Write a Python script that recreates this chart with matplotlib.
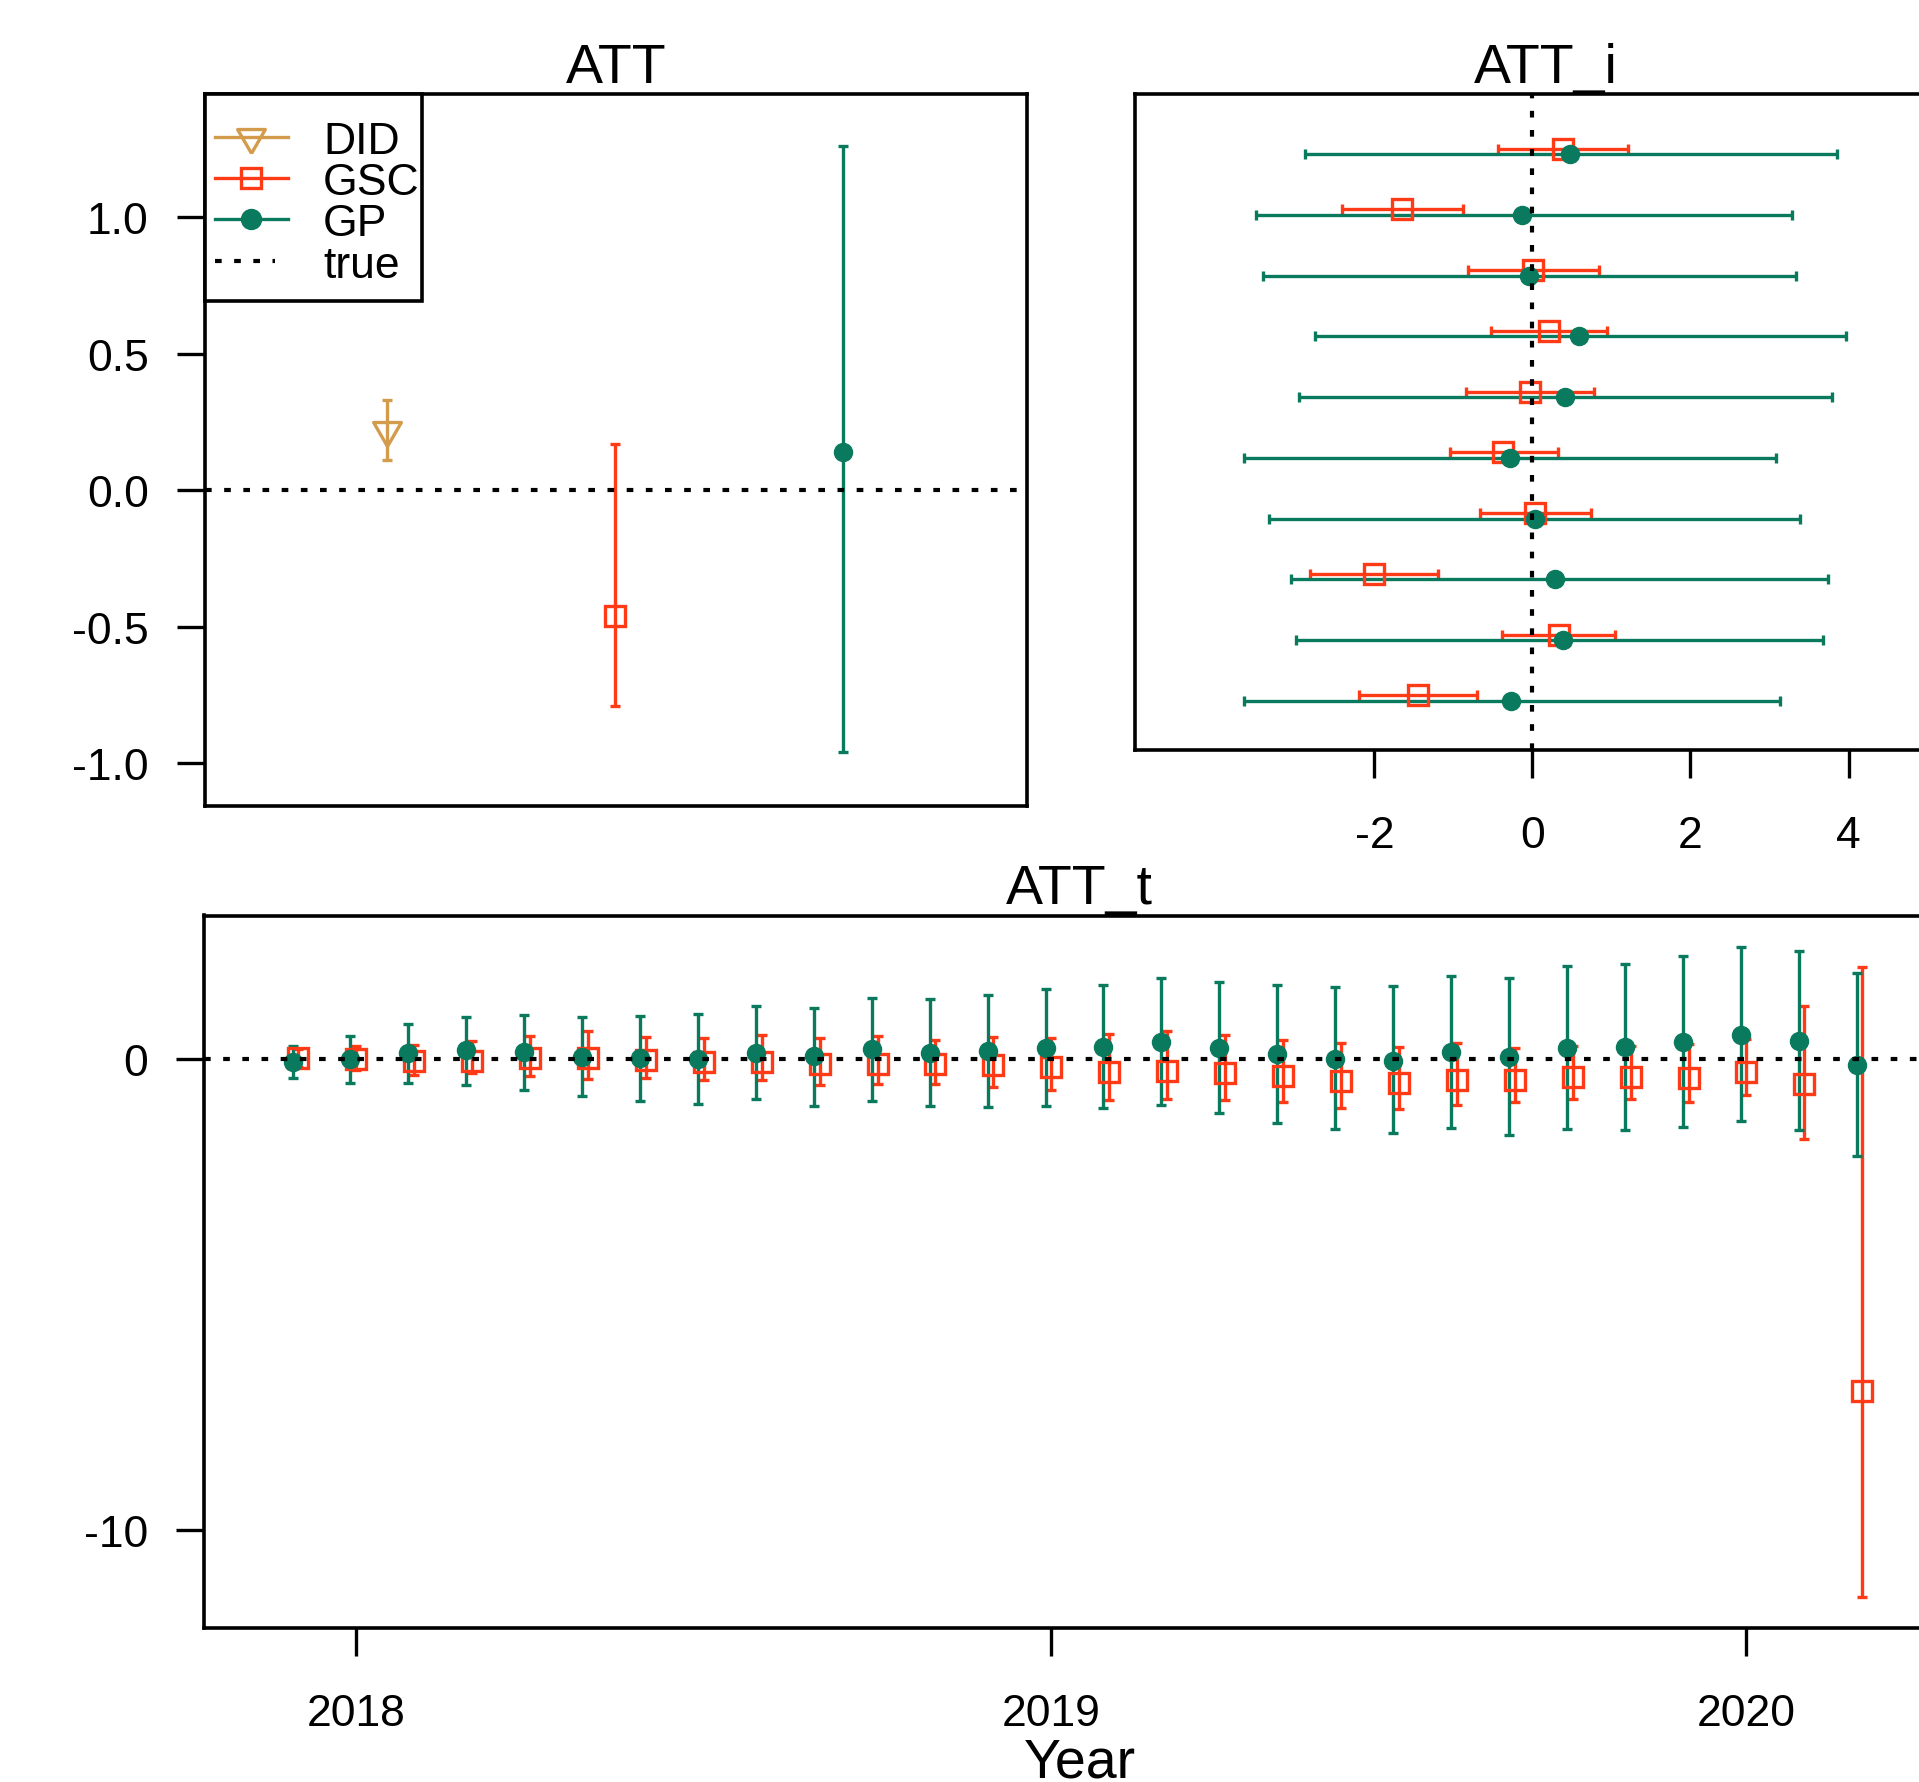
import numpy as np
import pandas as pd
import matplotlib.pyplot as plt
from matplotlib.lines import Line2D
from matplotlib.patches import Rectangle

plt.rcParams['font.family'] = ['Liberation Sans', 'DejaVu Sans']

col_did = '#D39B4C'
col_gsc = '#FF3A17'
col_gp = '#0A7A5E'

# --- ATT (overall effect) ---
att_names = ['DID', 'GSC', 'GP']
att_pos = [1, 2, 3]
att_mean = [0.22, -0.46, 0.14]
att_lo = [0.11, -0.79, -0.96]
att_hi = [0.33, 0.17, 1.26]
att_yticks = [-1.0, -0.5, 0.0, 0.5, 1.0]
att_ylabels = ['-1.0', '-0.5', '0.0', '0.5', '1.0']

# --- ATT_i (per unit) ---
unit_row = np.arange(1, 11)
gsc_i = [0.39, -1.65, 0.01, 0.21, -0.03, -0.37, 0.03, -2.01, 0.34, -1.45]
gsc_i_lo = [-0.43, -2.41, -0.81, -0.52, -0.84, -1.04, -0.66, -2.82, -0.38, -2.19]
gsc_i_hi = [1.21, -0.88, 0.84, 0.94, 0.78, 0.32, 0.74, -1.20, 1.05, -0.70]
gp_i = [0.48, -0.13, -0.05, 0.59, 0.41, -0.29, 0.03, 0.28, 0.39, -0.27]
gp_i_lo = [-2.88, -3.50, -3.41, -2.75, -2.96, -3.65, -3.34, -3.06, -2.99, -3.65]
gp_i_hi = [3.86, 3.28, 3.34, 3.97, 3.79, 3.08, 3.39, 3.74, 3.68, 3.13]
atti_xticks = [-2, 0, 2, 4]
atti_xlabels = ['-2', '0', '2', '4']

# --- ATT_t (per month) ---
months = pd.date_range('2017-12-01', periods=28, freq='MS')
gp_t = [-0.07, 0.00, 0.12, 0.18, 0.14, 0.04, 0.01, 0.00, 0.13, 0.05,
        0.21, 0.13, 0.16, 0.23, 0.25, 0.35, 0.23, 0.10, -0.01, -0.04,
        0.14, 0.04, 0.23, 0.24, 0.35, 0.51, 0.37, -0.14]
gp_t_lo = [-0.41, -0.51, -0.52, -0.55, -0.66, -0.80, -0.89, -0.95, -0.86, -1.00,
           -0.89, -1.01, -1.02, -1.00, -1.05, -0.99, -1.16, -1.36, -1.50, -1.57,
           -1.46, -1.61, -1.49, -1.51, -1.44, -1.33, -1.51, -2.07]
gp_t_hi = [0.27, 0.48, 0.74, 0.88, 0.92, 0.88, 0.91, 0.94, 1.13, 1.08,
           1.29, 1.27, 1.36, 1.49, 1.56, 1.71, 1.64, 1.56, 1.52, 1.54,
           1.76, 1.72, 1.96, 2.02, 2.18, 2.37, 2.28, 1.82]
gsc_t = [0.01, 0.00, -0.04, -0.04, 0.01, 0.01, -0.03, -0.06, -0.07, -0.11,
         -0.11, -0.12, -0.13, -0.17, -0.27, -0.25, -0.31, -0.37, -0.48, -0.52,
         -0.45, -0.45, -0.38, -0.38, -0.40, -0.29, -0.54, -7.05]
gsc_t_lo = [-0.18, -0.24, -0.35, -0.30, -0.37, -0.42, -0.40, -0.45, -0.46, -0.55,
            -0.54, -0.53, -0.60, -0.67, -0.87, -0.86, -0.88, -0.92, -1.04, -1.06,
            -0.99, -0.92, -0.85, -0.86, -0.92, -0.76, -1.70, -11.42]
gsc_t_hi = [0.20, 0.27, 0.30, 0.38, 0.48, 0.59, 0.47, 0.44, 0.51, 0.45,
            0.48, 0.40, 0.46, 0.45, 0.52, 0.59, 0.50, 0.40, 0.33, 0.25,
            0.33, 0.23, 0.27, 0.27, 0.32, 0.42, 1.11, 1.95]
year_ticks = [2018, 2019, 2020]
attt_yticks = [-10, 0]

# R-like look
tick_fs = 32
title_fs = 40
lw = 2.4
dot_lw = 3.0
dotted = (0, (1.6, 3.0))
tri_down = [(0, -1.555), (1.347, 0.777), (-1.347, 0.777), (0, -1.555)]
ms_sq, ms_ci, ms_tri = 15, 13, 23


def yerr(mean, lo, hi):
    mean = np.asarray(mean)
    return [mean - np.asarray(lo), np.asarray(hi) - mean]


def style(ax):
    for s in ax.spines.values():
        s.set_linewidth(2.6)
    ax.tick_params(direction='out', length=20.5, width=2.4, labelsize=tick_fs)
    ax.tick_params(axis='x', pad=26)
    ax.tick_params(axis='y', pad=20)


fig = plt.figure(figsize=(19.19, 17.83), dpi=100)
W, H = 1919, 1783

ax1 = fig.add_axes([205 / W, 1 - 807 / H, 822 / W, 712 / H])
ax2 = fig.add_axes([1135 / W, 1 - 751 / H, 821 / W, 656 / H])
ax3 = fig.add_axes([204 / W, 1 - 1629 / H, 1751 / W, 712.5 / H])

# ATT
kw = dict(capsize=3.6, capthick=lw, elinewidth=lw)
ax1.errorbar(att_pos[0], att_mean[0], yerr=yerr(att_mean[:1], att_lo[:1], att_hi[:1]),
             fmt='none', ecolor=col_did, **kw)
ax1.plot(att_pos[0], att_mean[0], marker=tri_down, ms=ms_tri, mfc='none', mec=col_did, mew=lw)
ax1.errorbar(att_pos[1], att_mean[1], yerr=yerr(att_mean[1:2], att_lo[1:2], att_hi[1:2]),
             fmt='s', ms=ms_sq, mfc='none', mec=col_gsc, mew=lw, color=col_gsc, **kw)
ax1.errorbar(att_pos[2], att_mean[2], yerr=yerr(att_mean[2:], att_lo[2:], att_hi[2:]),
             fmt='o', ms=ms_ci, mfc=col_gp, mec=col_gp, color=col_gp, **kw)
ax1.axhline(0, color='black', lw=dot_lw, ls=dotted, zorder=10)
ax1.set_xlim(0.2, 3.81)
ax1.set_ylim(-1.156, 1.451)
ax1.set_xticks([])
ax1.set_yticks(att_yticks, att_ylabels)
ax1.set_title('ATT', fontsize=title_fs, pad=8)
style(ax1)

# legend drawn by hand, R style box in the corner
leg_rows = [0.940, 0.882, 0.824, 0.765]
ax1.add_patch(Rectangle((0, 0.709), 0.264, 0.291, transform=ax1.transAxes,
                        facecolor='white', edgecolor='black', lw=2.6, zorder=20, clip_on=False))
leg_items = [(col_did, tri_down, ms_tri, 'none', '-', 0.101),
             (col_gsc, 's', ms_sq, 'none', '-', 0.101),
             (col_gp, 'o', ms_ci, col_gp, '-', 0.101),
             ('black', None, 0, 'none', dotted, 0.085)]
for (c, m, ms, fc, ls, x1), y, name in zip(leg_items, leg_rows, att_names + ['true']):
    ax1.add_line(Line2D([0.012, x1], [y, y], color=c, lw=lw if m else dot_lw, ls=ls,
                        transform=ax1.transAxes, zorder=21))
    if m is not None:
        ax1.add_line(Line2D([0.056], [y], marker=m, ms=ms, mfc=fc, mec=c, mew=lw,
                            transform=ax1.transAxes, zorder=22))
    ax1.text(0.1436, y, name, fontsize=tick_fs, va='center_baseline', ha='left',
             transform=ax1.transAxes, zorder=22)

# ATT_i
ax2.errorbar(gsc_i, unit_row - 0.09, xerr=yerr(gsc_i, gsc_i_lo, gsc_i_hi), fmt='s', ms=ms_sq,
             mfc='none', mec=col_gsc, mew=lw, color=col_gsc, **kw)
ax2.errorbar(gp_i, unit_row, xerr=yerr(gp_i, gp_i_lo, gp_i_hi), fmt='o', ms=ms_ci,
             mfc=col_gp, mec=col_gp, color=col_gp, **kw)
ax2.axvline(0, color='black', lw=dot_lw, ls=dotted, zorder=10)
ax2.set_xlim(-5.03, 5.36)
ax2.set_ylim(10.81, 0.01)
ax2.set_yticks([])
ax2.set_xticks(atti_xticks, atti_xlabels)
ax2.set_title('ATT_i', fontsize=title_fs, pad=8)
style(ax2)

# ATT_t
t = months.year + (months.month - 1) / 12
ax3.errorbar(t, gsc_t, yerr=yerr(gsc_t, gsc_t_lo, gsc_t_hi), fmt='s', ms=ms_sq,
             mfc='none', mec=col_gsc, mew=lw, color=col_gsc, **kw)
ax3.errorbar(t - 0.1 / 12, gp_t, yerr=yerr(gp_t, gp_t_lo, gp_t_hi), fmt='o', ms=ms_ci,
             mfc=col_gp, mec=col_gp, color=col_gp, **kw)
ax3.axhline(0, color='black', lw=dot_lw, ls=dotted, zorder=10)
ax3.set_xlim(2017.781, 2020.300)
ax3.set_ylim(-12.08, 3.041)
ax3.set_xticks(year_ticks, [str(y) for y in year_ticks])
ax3.set_yticks(attt_yticks, [str(v) for v in attt_yticks])
ax3.set_title('ATT_t', fontsize=title_fs, pad=8)
ax3.set_xlabel('Year', fontsize=title_fs, labelpad=2)
style(ax3)

fig.savefig('out.png', dpi=100)
